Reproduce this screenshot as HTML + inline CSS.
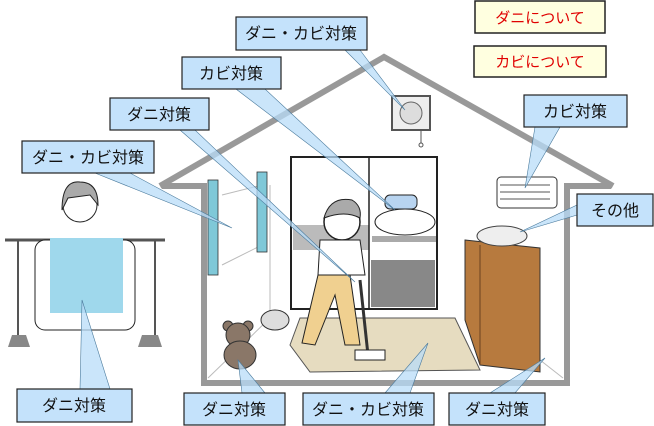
<!DOCTYPE html>
<html><head><meta charset="utf-8"><style>
html,body{margin:0;padding:0;background:#fff;}
svg{display:block;}
text{font-family:"Liberation Sans","Noto Sans CJK JP",sans-serif;font-size:16px;fill:#111;}
</style></head><body>
<svg width="654" height="426" viewBox="0 0 654 426" xmlns="http://www.w3.org/2000/svg">
<g fill="none" stroke="#999" stroke-width="6">
<polyline points="160,186 384,57 613,186"/>
<polyline points="162,186 204,186 204,383 567,383 567,186 611,186"/>
</g>
<g stroke="#bbb" stroke-width="1" fill="none">
<line x1="208" y1="378" x2="270" y2="318"/><line x1="270" y1="185" x2="270" y2="318"/>
<line x1="222" y1="195" x2="262" y2="185"/><line x1="222" y1="265" x2="262" y2="245"/>
<line x1="540" y1="360" x2="563" y2="378"/>
</g>
<rect x="291" y="157" width="146" height="152" fill="#fff" stroke="#222" stroke-width="2"/>
<rect x="293" y="225" width="76" height="25" fill="#bbb"/>
<rect x="371" y="260" width="64" height="47" fill="#888"/>
<line x1="369" y1="157" x2="369" y2="309" stroke="#222" stroke-width="1.5"/>
<rect x="372" y="236" width="64" height="6" fill="#aaa"/>
<ellipse cx="405" cy="222" rx="30" ry="13" fill="#fff" stroke="#222"/>
<rect x="385" y="195" width="32" height="14" rx="5" fill="#b8d4f0" stroke="#222"/>
<rect x="208" y="180" width="10" height="95" fill="#7fc8d8" stroke="#333" stroke-width="0.8"/>
<rect x="257" y="172" width="10" height="80" fill="#7fc8d8" stroke="#333" stroke-width="0.8"/>
<rect x="392" y="96" width="38" height="34" fill="#eee" stroke="#555" stroke-width="2"/>
<circle cx="411" cy="113" r="11" fill="#ddd" stroke="#666"/>
<line x1="421" y1="130" x2="421" y2="145" stroke="#555"/><circle cx="421" cy="145" r="2" fill="#fff" stroke="#555"/>
<rect x="497" y="177" width="60" height="31" rx="4" fill="#fff" stroke="#333"/>
<line x1="500" y1="185" x2="550" y2="185" stroke="#555"/><line x1="500" y1="192" x2="550" y2="192" stroke="#555"/><line x1="500" y1="199" x2="550" y2="199" stroke="#555"/>
<polygon points="300,318 455,318 480,370 310,372 290,345" fill="#e6dcc0" stroke="#555"/>
<polygon points="465,240 540,248 540,372 480,365 465,320" fill="#b77a3e" stroke="#333"/>
<line x1="480" y1="245" x2="480" y2="365" stroke="#6b4220"/>
<ellipse cx="502" cy="236" rx="25" ry="10" fill="#eee" stroke="#444"/>
<circle cx="342" cy="222" r="18" fill="#fff" stroke="#222" stroke-width="1.5"/>
<path d="M324,218 Q330,196 352,200 Q362,206 360,218 Q345,210 324,218Z" fill="#aaa" stroke="#222"/>
<path d="M320,240 L360,240 L365,275 L318,275Z" fill="#fff" stroke="#222"/>
<path d="M318,275 L350,275 L360,345 L345,345 L335,295 L315,345 L302,343Z" fill="#f0d090" stroke="#222"/>
<line x1="360" y1="280" x2="368" y2="355" stroke="#333" stroke-width="3"/>
<rect x="355" y="350" width="30" height="10" fill="#fff" stroke="#222"/>
<ellipse cx="275" cy="320" rx="14" ry="10" fill="#ddd" stroke="#333"/>
<circle cx="228" cy="326" r="5" fill="#8a7768" stroke="#333"/><circle cx="248" cy="326" r="5" fill="#8a7768" stroke="#333"/>
<circle cx="238" cy="335" r="12" fill="#8a7768" stroke="#333"/>
<ellipse cx="240" cy="355" rx="16" ry="14" fill="#8a7768" stroke="#333"/>
<line x1="5" y1="240" x2="165" y2="240" stroke="#555" stroke-width="3"/>
<line x1="18" y1="240" x2="18" y2="335" stroke="#555" stroke-width="2"/>
<line x1="155" y1="240" x2="155" y2="335" stroke="#555" stroke-width="2"/>
<polygon points="8,347 30,347 26,335 12,335" fill="#888"/>
<polygon points="138,347 162,347 158,335 142,335" fill="#888"/>
<circle cx="80" cy="205" r="17" fill="#fff" stroke="#222"/>
<path d="M62,210 Q62,180 80,182 Q98,182 98,205 L90,195 L68,198Z" fill="#aaa" stroke="#222"/>
<rect x="35" y="240" width="100" height="90" rx="10" fill="#fff" stroke="#222"/>
<rect x="50" y="238" width="73" height="75" fill="#9fd8ec"/>
<g fill="#b8dcf8" fill-opacity="0.75" stroke="#4a7a9c" stroke-width="0.6">
<polygon points="345,50 360,50 405,110"/>
<polygon points="236,89 265,89 395,210"/>
<polygon points="180,130 195,130 355,282"/>
<polygon points="95,173 130,173 232,228"/>
<polygon points="535,127 560,127 525,188"/>
<polygon points="577,205 577,215 520,232"/>
<polygon points="80,389 110,389 82,300"/>
<polygon points="242,393 265,393 238,360"/>
<polygon points="385,393 410,393 428,343"/>
<polygon points="490,393 515,393 545,358"/>
</g>
<g fill="#c4e2fb" stroke="#222" stroke-width="1.2">
<rect x="236" y="17" width="131" height="33"/>
<rect x="182" y="57" width="99" height="32"/>
<rect x="110" y="98" width="99" height="32"/>
<rect x="22" y="141" width="132" height="32"/>
<rect x="524" y="95" width="103" height="32"/>
<rect x="577" y="194" width="76" height="32"/>
<rect x="17" y="389" width="115" height="33"/>
<rect x="184" y="393" width="101" height="32"/>
<rect x="303" y="393" width="131" height="32"/>
<rect x="449" y="393" width="96" height="32"/>
</g>
<g fill="#ffffe0" stroke="#222" stroke-width="1.5">
<rect x="475" y="1" width="130" height="32"/>
<rect x="474" y="46" width="132" height="31"/>
</g>
<text x="301" y="39" text-anchor="middle">ダニ・カビ対策</text>
<text x="231" y="79" text-anchor="middle">カビ対策</text>
<text x="159" y="120" text-anchor="middle">ダニ対策</text>
<text x="88" y="163" text-anchor="middle">ダニ・カビ対策</text>
<text x="575" y="117" text-anchor="middle">カビ対策</text>
<text x="615" y="216" text-anchor="middle">その他</text>
<text x="74" y="411" text-anchor="middle">ダニ対策</text>
<text x="234" y="415" text-anchor="middle">ダニ対策</text>
<text x="368" y="415" text-anchor="middle">ダニ・カビ対策</text>
<text x="497" y="415" text-anchor="middle">ダニ対策</text>
<text x="540" y="23" text-anchor="middle" style="fill:#e00000;font-size:15px">ダニについて</text>
<text x="540" y="67" text-anchor="middle" style="fill:#e00000;font-size:15px">カビについて</text>
</svg>
</body></html>
